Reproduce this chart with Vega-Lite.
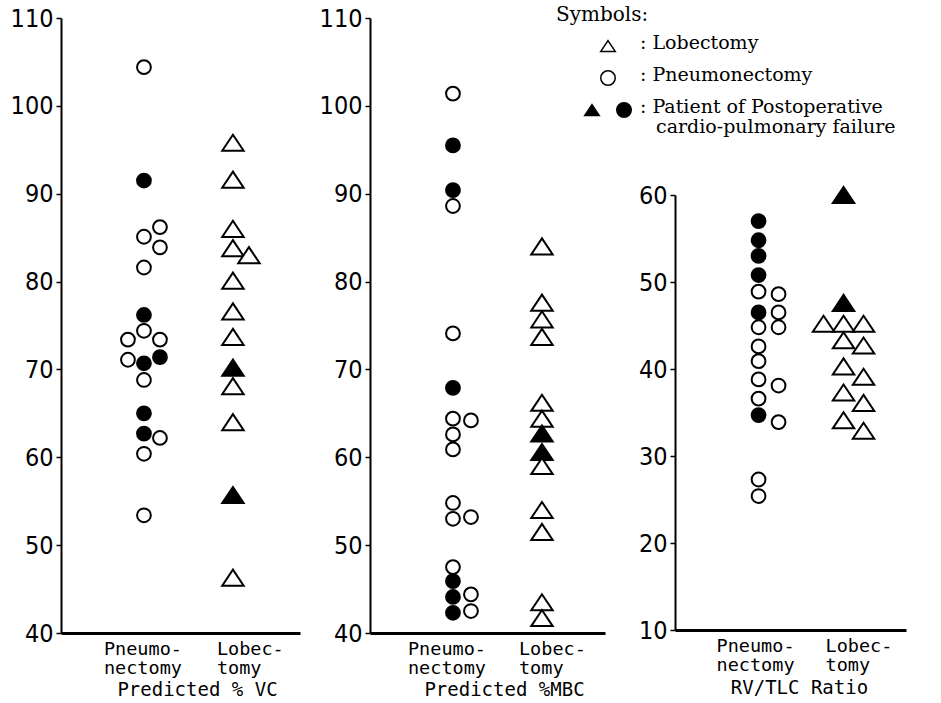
{
  "$schema": "https://vega.github.io/schema/vega-lite/v6.json",
  "background": "white",
  "padding": {"left": 10, "top": 5, "right": 5, "bottom": 1},
  "bounds": "flush",
  "spacing": 70,
  "resolve": {"scale": {"xOffset": "independent"}},
  "config": {
    "view": {"stroke": null},
    "axis": {"grid": false, "domainColor": "black", "tickColor": "black", "labelColor": "black", "titleColor": "black"}
  },
  "datasets": {
    "pts": [
      {"m": "VC", "g": "Pneumonectomy", "c": 0, "v": 104.4, "f": "no"},
      {"m": "VC", "g": "Pneumonectomy", "c": 0, "v": 91.5, "f": "yes"},
      {"m": "VC", "g": "Pneumonectomy", "c": 0, "v": 85.1, "f": "no"},
      {"m": "VC", "g": "Pneumonectomy", "c": 1, "v": 86.2, "f": "no"},
      {"m": "VC", "g": "Pneumonectomy", "c": 1, "v": 83.9, "f": "no"},
      {"m": "VC", "g": "Pneumonectomy", "c": 0, "v": 81.6, "f": "no"},
      {"m": "VC", "g": "Pneumonectomy", "c": 0, "v": 76.2, "f": "yes"},
      {"m": "VC", "g": "Pneumonectomy", "c": 0, "v": 74.4, "f": "no"},
      {"m": "VC", "g": "Pneumonectomy", "c": -1, "v": 73.4, "f": "no"},
      {"m": "VC", "g": "Pneumonectomy", "c": 1, "v": 73.4, "f": "no"},
      {"m": "VC", "g": "Pneumonectomy", "c": -1, "v": 71.1, "f": "no"},
      {"m": "VC", "g": "Pneumonectomy", "c": 0, "v": 70.7, "f": "yes"},
      {"m": "VC", "g": "Pneumonectomy", "c": 1, "v": 71.4, "f": "yes"},
      {"m": "VC", "g": "Pneumonectomy", "c": 0, "v": 68.8, "f": "no"},
      {"m": "VC", "g": "Pneumonectomy", "c": 0, "v": 65.0, "f": "yes"},
      {"m": "VC", "g": "Pneumonectomy", "c": 0, "v": 62.7, "f": "yes"},
      {"m": "VC", "g": "Pneumonectomy", "c": 1, "v": 62.2, "f": "no"},
      {"m": "VC", "g": "Pneumonectomy", "c": 0, "v": 60.4, "f": "no"},
      {"m": "VC", "g": "Pneumonectomy", "c": 0, "v": 53.4, "f": "no"},
      {"m": "VC", "g": "Lobectomy", "c": 0, "v": 95.8, "f": "no"},
      {"m": "VC", "g": "Lobectomy", "c": 0, "v": 91.6, "f": "no"},
      {"m": "VC", "g": "Lobectomy", "c": 0, "v": 86.0, "f": "no"},
      {"m": "VC", "g": "Lobectomy", "c": 0, "v": 83.8, "f": "no"},
      {"m": "VC", "g": "Lobectomy", "c": 1, "v": 83.0, "f": "no"},
      {"m": "VC", "g": "Lobectomy", "c": 0, "v": 80.1, "f": "no"},
      {"m": "VC", "g": "Lobectomy", "c": 0, "v": 76.6, "f": "no"},
      {"m": "VC", "g": "Lobectomy", "c": 0, "v": 73.7, "f": "no"},
      {"m": "VC", "g": "Lobectomy", "c": 0, "v": 70.2, "f": "yes"},
      {"m": "VC", "g": "Lobectomy", "c": 0, "v": 68.1, "f": "no"},
      {"m": "VC", "g": "Lobectomy", "c": 0, "v": 64.0, "f": "no"},
      {"m": "VC", "g": "Lobectomy", "c": 0, "v": 55.7, "f": "yes"},
      {"m": "VC", "g": "Lobectomy", "c": 0, "v": 46.3, "f": "no"},

      {"m": "MBC", "g": "Pneumonectomy", "c": 0, "v": 101.4, "f": "no"},
      {"m": "MBC", "g": "Pneumonectomy", "c": 0, "v": 95.5, "f": "yes"},
      {"m": "MBC", "g": "Pneumonectomy", "c": 0, "v": 90.4, "f": "yes"},
      {"m": "MBC", "g": "Pneumonectomy", "c": 0, "v": 88.6, "f": "no"},
      {"m": "MBC", "g": "Pneumonectomy", "c": 0, "v": 74.1, "f": "no"},
      {"m": "MBC", "g": "Pneumonectomy", "c": 0, "v": 67.9, "f": "yes"},
      {"m": "MBC", "g": "Pneumonectomy", "c": 0, "v": 64.4, "f": "no"},
      {"m": "MBC", "g": "Pneumonectomy", "c": 0, "v": 62.6, "f": "no"},
      {"m": "MBC", "g": "Pneumonectomy", "c": 0, "v": 60.9, "f": "no"},
      {"m": "MBC", "g": "Pneumonectomy", "c": 0, "v": 54.8, "f": "no"},
      {"m": "MBC", "g": "Pneumonectomy", "c": 0, "v": 53.0, "f": "no"},
      {"m": "MBC", "g": "Pneumonectomy", "c": 0, "v": 47.5, "f": "no"},
      {"m": "MBC", "g": "Pneumonectomy", "c": 0, "v": 45.9, "f": "yes"},
      {"m": "MBC", "g": "Pneumonectomy", "c": 0, "v": 44.1, "f": "yes"},
      {"m": "MBC", "g": "Pneumonectomy", "c": 0, "v": 42.3, "f": "yes"},
      {"m": "MBC", "g": "Pneumonectomy", "c": 1, "v": 64.2, "f": "no"},
      {"m": "MBC", "g": "Pneumonectomy", "c": 1, "v": 53.2, "f": "no"},
      {"m": "MBC", "g": "Pneumonectomy", "c": 1, "v": 44.4, "f": "no"},
      {"m": "MBC", "g": "Pneumonectomy", "c": 1, "v": 42.5, "f": "no"},
      {"m": "MBC", "g": "Lobectomy", "c": 0, "v": 84.0, "f": "no"},
      {"m": "MBC", "g": "Lobectomy", "c": 0, "v": 77.6, "f": "no"},
      {"m": "MBC", "g": "Lobectomy", "c": 0, "v": 75.7, "f": "no"},
      {"m": "MBC", "g": "Lobectomy", "c": 0, "v": 73.7, "f": "no"},
      {"m": "MBC", "g": "Lobectomy", "c": 0, "v": 66.2, "f": "no"},
      {"m": "MBC", "g": "Lobectomy", "c": 0, "v": 64.4, "f": "no"},
      {"m": "MBC", "g": "Lobectomy", "c": 0, "v": 62.7, "f": "yes"},
      {"m": "MBC", "g": "Lobectomy", "c": 0, "v": 60.6, "f": "yes"},
      {"m": "MBC", "g": "Lobectomy", "c": 0, "v": 59.0, "f": "no"},
      {"m": "MBC", "g": "Lobectomy", "c": 0, "v": 54.0, "f": "no"},
      {"m": "MBC", "g": "Lobectomy", "c": 0, "v": 51.5, "f": "no"},
      {"m": "MBC", "g": "Lobectomy", "c": 0, "v": 43.5, "f": "no"},
      {"m": "MBC", "g": "Lobectomy", "c": 0, "v": 41.7, "f": "no"},

      {"m": "RV", "g": "Pneumonectomy", "c": 0, "v": 57.0, "f": "yes"},
      {"m": "RV", "g": "Pneumonectomy", "c": 0, "v": 54.8, "f": "yes"},
      {"m": "RV", "g": "Pneumonectomy", "c": 0, "v": 53.0, "f": "yes"},
      {"m": "RV", "g": "Pneumonectomy", "c": 0, "v": 50.8, "f": "yes"},
      {"m": "RV", "g": "Pneumonectomy", "c": 0, "v": 48.9, "f": "no"},
      {"m": "RV", "g": "Pneumonectomy", "c": 0, "v": 46.5, "f": "yes"},
      {"m": "RV", "g": "Pneumonectomy", "c": 0, "v": 44.8, "f": "no"},
      {"m": "RV", "g": "Pneumonectomy", "c": 0, "v": 42.6, "f": "no"},
      {"m": "RV", "g": "Pneumonectomy", "c": 0, "v": 40.9, "f": "no"},
      {"m": "RV", "g": "Pneumonectomy", "c": 0, "v": 38.8, "f": "no"},
      {"m": "RV", "g": "Pneumonectomy", "c": 0, "v": 36.6, "f": "no"},
      {"m": "RV", "g": "Pneumonectomy", "c": 0, "v": 34.7, "f": "yes"},
      {"m": "RV", "g": "Pneumonectomy", "c": 0, "v": 27.3, "f": "no"},
      {"m": "RV", "g": "Pneumonectomy", "c": 0, "v": 25.4, "f": "no"},
      {"m": "RV", "g": "Pneumonectomy", "c": 1, "v": 48.6, "f": "no"},
      {"m": "RV", "g": "Pneumonectomy", "c": 1, "v": 46.5, "f": "no"},
      {"m": "RV", "g": "Pneumonectomy", "c": 1, "v": 44.8, "f": "no"},
      {"m": "RV", "g": "Pneumonectomy", "c": 1, "v": 38.1, "f": "no"},
      {"m": "RV", "g": "Pneumonectomy", "c": 1, "v": 33.9, "f": "no"},
      {"m": "RV", "g": "Lobectomy", "c": 0, "v": 60.0, "f": "yes"},
      {"m": "RV", "g": "Lobectomy", "c": 0, "v": 47.6, "f": "yes"},
      {"m": "RV", "g": "Lobectomy", "c": 0, "v": 45.2, "f": "no"},
      {"m": "RV", "g": "Lobectomy", "c": 0, "v": 43.3, "f": "no"},
      {"m": "RV", "g": "Lobectomy", "c": 0, "v": 40.3, "f": "no"},
      {"m": "RV", "g": "Lobectomy", "c": 0, "v": 37.3, "f": "no"},
      {"m": "RV", "g": "Lobectomy", "c": 0, "v": 34.1, "f": "no"},
      {"m": "RV", "g": "Lobectomy", "c": -1, "v": 45.2, "f": "no"},
      {"m": "RV", "g": "Lobectomy", "c": 1, "v": 45.2, "f": "no"},
      {"m": "RV", "g": "Lobectomy", "c": 1, "v": 42.7, "f": "no"},
      {"m": "RV", "g": "Lobectomy", "c": 1, "v": 39.1, "f": "no"},
      {"m": "RV", "g": "Lobectomy", "c": 1, "v": 36.1, "f": "no"},
      {"m": "RV", "g": "Lobectomy", "c": 1, "v": 32.9, "f": "no"}
    ],
    "legend": [
      {"item": "sym", "line": "L1", "slot": "open", "g": "Lobectomy", "f": "no"},
      {"item": "sym", "line": "L2", "slot": "open", "g": "Pneumonectomy", "f": "no"},
      {"item": "sym", "line": "L3", "slot": "fillTri", "g": "Lobectomy", "f": "yes"},
      {"item": "sym", "line": "L3", "slot": "fillCirc", "g": "Pneumonectomy", "f": "yes"},
      {"item": "text", "line": "L1", "slot": "colon", "label": ": Lobectomy"},
      {"item": "text", "line": "L2", "slot": "colon", "label": ": Pneumonectomy"},
      {"item": "text", "line": "L3", "slot": "colon", "label": ": Patient of Postoperative"},
      {"item": "cont", "line": "L3", "slot": "text", "label": "cardio-pulmonary failure"}
    ]
  },
  "hconcat": [
    {
      "width": 239,
      "height": 615,
      "data": {"name": "pts"},
      "transform": [{"filter": "datum.m === 'VC'"}],
      "mark": {"type": "point", "filled": true, "stroke": "black", "strokeWidth": 2, "opacity": 1},
      "encoding": {
        "x": {"field": "g", "type": "nominal", "sort": ["Pneumonectomy", "Lobectomy"],
          "scale": {"domain": ["Pneumonectomy", "Lobectomy"], "paddingInner": 0, "paddingOuter": 0.343, "align": 0.63},
          "axis": {"title": "Predicted % VC", "titleX": 136, "titleY": 62, "titleAlign": "center", "titleBaseline": "alphabetic",
            "titleFont": "DejaVu Sans Mono", "titleFontSize": 19, "titleFontWeight": "normal",
            "labelExpr": "datum.value === 'Pneumonectomy' ? ['Pneumo-', 'nectomy'] : ['Lobec-', 'tomy']",
            "labelAlign": "left", "labelBaseline": "top", "labelPadding": 6, "labelAngle": 0,
            "labelOffset": {"condition": {"test": "datum.value === 'Lobectomy'", "value": -16}, "value": -40},
            "labelFont": "DejaVu Sans Mono", "labelFontSize": 18.5, "labelLineHeight": 19,
            "ticks": false, "domainWidth": 3}},
        "xOffset": {"field": "c", "type": "ordinal", "scale": {"type": "point", "domain": [-1, 0, 1], "range": [28.5, 60.5], "padding": 0}},
        "y": {"field": "v", "type": "quantitative", "scale": {"domain": [40, 110], "nice": false, "zero": false},
          "axis": {"title": null, "values": [40, 50, 60, 70, 80, 90, 100, 110], "labelFont": "Liberation Sans Narrow, DejaVu Sans Condensed, sans-serif",
            "labelFontSize": 25, "labelPadding": 3, "tickSize": 5, "tickWidth": 1.5, "domainWidth": 2, "labelFlush": false, "labelOverlap": false}},
        "shape": {"field": "g", "type": "nominal", "scale": {"domain": ["Pneumonectomy", "Lobectomy"], "range": ["circle", "M0,-0.75L1,0.75L-1,0.75Z"]}, "legend": null},
        "fill": {"field": "f", "type": "nominal", "scale": {"domain": ["no", "yes"], "range": ["white", "black"]}, "legend": null},
        "size": {"condition": {"test": "datum.g === 'Lobectomy'", "value": 460}, "value": 190}
      }
    },
    {
      "width": 235,
      "height": 615,
      "data": {"name": "pts"},
      "transform": [{"filter": "datum.m === 'MBC'"}],
      "mark": {"type": "point", "filled": true, "stroke": "black", "strokeWidth": 2, "opacity": 1},
      "encoding": {
        "x": {"field": "g", "type": "nominal", "sort": ["Pneumonectomy", "Lobectomy"],
          "scale": {"domain": ["Pneumonectomy", "Lobectomy"], "paddingInner": 0, "paddingOuter": 0.32, "align": 0.675},
          "axis": {"title": "Predicted %MBC", "titleX": 134, "titleY": 62, "titleAlign": "center", "titleBaseline": "alphabetic",
            "titleFont": "DejaVu Sans Mono", "titleFontSize": 19, "titleFontWeight": "normal",
            "labelExpr": "datum.value === 'Pneumonectomy' ? ['Pneumo-', 'nectomy'] : ['Lobec-', 'tomy']",
            "labelAlign": "left", "labelBaseline": "top", "labelPadding": 6, "labelAngle": 0,
            "labelOffset": {"condition": {"test": "datum.value === 'Lobectomy'", "value": -23}, "value": -45},
            "labelFont": "DejaVu Sans Mono", "labelFontSize": 18.5, "labelLineHeight": 19,
            "ticks": false, "domainWidth": 3}},
        "xOffset": {"field": "c", "type": "ordinal", "scale": {"type": "point", "domain": [-1, 0, 1], "range": [26.5, 62.5], "padding": 0}},
        "y": {"field": "v", "type": "quantitative", "scale": {"domain": [40, 110], "nice": false, "zero": false},
          "axis": {"title": null, "values": [40, 50, 60, 70, 80, 90, 100, 110], "labelFont": "Liberation Sans Narrow, DejaVu Sans Condensed, sans-serif",
            "labelFontSize": 25, "labelPadding": 3, "tickSize": 5, "tickWidth": 1.5, "domainWidth": 2, "labelFlush": false, "labelOverlap": false}},
        "shape": {"field": "g", "type": "nominal", "scale": {"domain": ["Pneumonectomy", "Lobectomy"], "range": ["circle", "M0,-0.75L1,0.75L-1,0.75Z"]}, "legend": null},
        "fill": {"field": "f", "type": "nominal", "scale": {"domain": ["no", "yes"], "range": ["white", "black"]}, "legend": null},
        "size": {"condition": {"test": "datum.g === 'Lobectomy'", "value": 460}, "value": 190}
      }
    },
    {
      "bounds": "flush",
      "spacing": 27,
      "resolve": {"scale": {"xOffset": "independent"}},
      "vconcat": [
        {
          "width": 231,
          "height": 150,
          "data": {"name": "legend"},
          "title": {"text": "Symbols:", "anchor": "start", "frame": "group", "dx": -119, "offset": -23, "baseline": "alphabetic",
            "font": "DejaVu Serif", "fontSize": 20, "fontWeight": "normal", "color": "black"},
          "layer": [
            {
              "transform": [{"filter": "datum.item === 'sym'"}],
              "mark": {"type": "point", "filled": true, "stroke": "black", "strokeWidth": 1.5, "opacity": 1, "size": 210},
              "encoding": {
                "x": {"field": "slot", "type": "nominal", "scale": {"type": "point", "domain": ["fillTri", "open", "fillCirc", "colon", "text"], "range": [-83, -19], "padding": 0}, "axis": null},
                "y": {"field": "line", "type": "nominal", "scale": {"type": "point", "domain": ["L1", "L2", "L3"], "range": [28, 92], "padding": 0}, "axis": null},
                "shape": {"field": "g", "type": "nominal", "scale": {"domain": ["Pneumonectomy", "Lobectomy"], "range": ["circle", "M0,-0.75L1,0.75L-1,0.75Z"]}, "legend": null},
                "fill": {"field": "f", "type": "nominal", "scale": {"domain": ["no", "yes"], "range": ["white", "black"]}, "legend": null}
              }
            },
            {
              "transform": [{"filter": "datum.item === 'text'"}],
              "mark": {"type": "text", "align": "left", "baseline": "alphabetic", "dy": 3, "font": "DejaVu Serif", "fontSize": 19, "color": "black"},
              "encoding": {
                "x": {"field": "slot", "type": "nominal", "axis": null},
                "y": {"field": "line", "type": "nominal", "axis": null},
                "text": {"field": "label", "type": "nominal"}
              }
            },
            {
              "transform": [{"filter": "datum.item === 'cont'"}],
              "mark": {"type": "text", "align": "left", "baseline": "alphabetic", "dy": 23, "font": "DejaVu Serif", "fontSize": 19, "color": "black"},
              "encoding": {
                "x": {"field": "slot", "type": "nominal", "axis": null},
                "y": {"field": "line", "type": "nominal", "axis": null},
                "text": {"field": "label", "type": "nominal"}
              }
            }
          ]
        },
        {
          "width": 231,
          "height": 435,
          "data": {"name": "pts"},
          "transform": [{"filter": "datum.m === 'RV'"}],
          "mark": {"type": "point", "filled": true, "stroke": "black", "strokeWidth": 2, "opacity": 1},
          "encoding": {
            "x": {"field": "g", "type": "nominal", "sort": ["Pneumonectomy", "Lobectomy"],
              "scale": {"domain": ["Pneumonectomy", "Lobectomy"], "paddingInner": 0, "paddingOuter": 0.359, "align": 0.64},
              "axis": {"title": "RV/TLC Ratio", "titleX": 124, "titleY": 63, "titleAlign": "center", "titleBaseline": "alphabetic",
                "titleFont": "DejaVu Sans Mono", "titleFontSize": 19, "titleFontWeight": "normal",
                "labelExpr": "datum.value === 'Pneumonectomy' ? ['Pneumo-', 'nectomy'] : ['Lobec-', 'tomy']",
                "labelAlign": "left", "labelBaseline": "top", "labelPadding": 6, "labelAngle": 0,
                "labelOffset": {"condition": {"test": "datum.value === 'Lobectomy'", "value": -16}, "value": -40},
                "labelFont": "DejaVu Sans Mono", "labelFontSize": 18.5, "labelLineHeight": 19,
                "ticks": false, "domainWidth": 3}},
            "xOffset": {"field": "c", "type": "ordinal", "scale": {"type": "point", "domain": [-1, 0, 1], "range": [24.5, 64.5], "padding": 0}},
            "y": {"field": "v", "type": "quantitative", "scale": {"domain": [10, 60], "nice": false, "zero": false},
              "axis": {"title": null, "values": [10, 20, 30, 40, 50, 60], "labelFont": "Liberation Sans Narrow, DejaVu Sans Condensed, sans-serif",
                "labelFontSize": 25, "labelPadding": 3, "tickSize": 5, "tickWidth": 1.5, "domainWidth": 2, "labelFlush": false, "labelOverlap": false}},
            "shape": {"field": "g", "type": "nominal", "scale": {"domain": ["Pneumonectomy", "Lobectomy"], "range": ["circle", "M0,-0.75L1,0.75L-1,0.75Z"]}, "legend": null},
            "fill": {"field": "f", "type": "nominal", "scale": {"domain": ["no", "yes"], "range": ["white", "black"]}, "legend": null},
            "size": {"condition": {"test": "datum.g === 'Lobectomy'", "value": 460}, "value": 190}
          }
        }
      ]
    }
  ]
}
